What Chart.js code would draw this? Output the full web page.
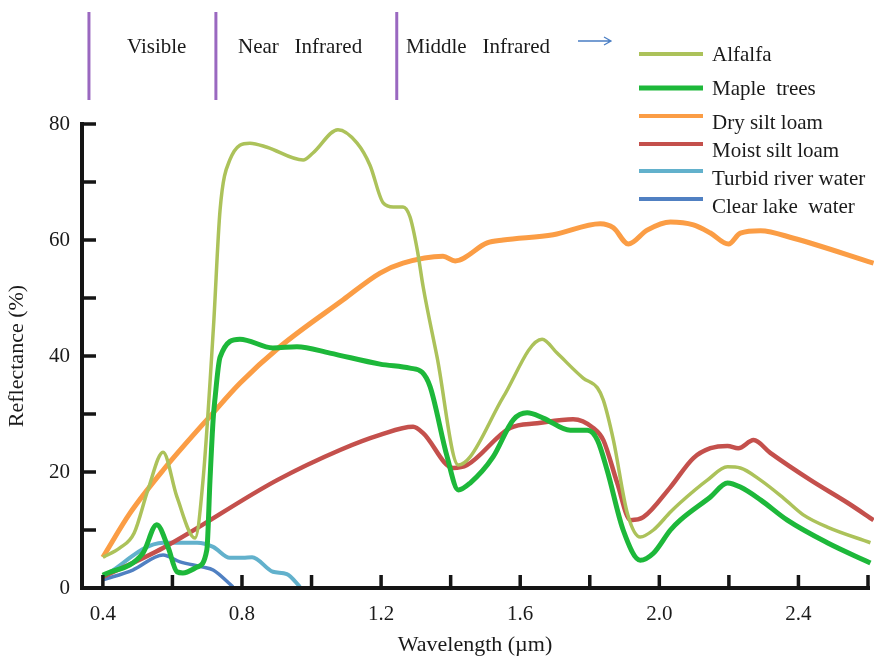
<!DOCTYPE html>
<html>
<head>
<meta charset="utf-8">
<script src="https://cdn.jsdelivr.net/npm/chart.js@4"></script>
<style>
  html, body { margin: 0; padding: 0; background: #fff; }
  #wrap { width: 874px; height: 656px; }
</style>
</head>
<body>
<div id="wrap"><canvas id="myChart" width="874" height="656"></canvas></div>
<script>
// wavelength (um) / reflectance (%)
const alfalfaWl = [0.40, 0.449, 0.49, 0.53, 0.573, 0.613, 0.665, 0.688, 0.718, 0.737, 0.765, 0.823, 0.872, 0.976, 1.004, 1.076, 1.131, 1.168, 1.206, 1.235, 1.263, 1.283, 1.304, 1.321, 1.361, 1.422, 1.456, 1.551, 1.663, 1.706, 1.781, 1.822, 1.839, 1.868, 1.908, 1.945, 1.983, 2.032, 2.060, 2.138, 2.196, 2.233, 2.291, 2.357, 2.414, 2.483, 2.607];
const alfalfaR  = [5.3, 6.9, 9.5, 17.0, 23.4, 15.7, 8.6, 18.6, 45.0, 65.2, 73.8, 76.7, 76.0, 73.8, 75.0, 79.0, 76.7, 72.9, 66.4, 65.7, 65.7, 64.0, 58.3, 51.9, 39.8, 21.2, 22.6, 32.9, 42.9, 40.5, 36.2, 34.5, 32.4, 25.5, 12.9, 8.8, 10.0, 13.1, 14.7, 18.6, 20.9, 20.7, 18.6, 15.5, 12.6, 10.5, 7.8];

const mapleWl = [0.40, 0.515, 0.555, 0.587, 0.613, 0.630, 0.671, 0.699, 0.708, 0.717, 0.722, 0.737, 0.794, 0.889, 0.958, 1.053, 1.197, 1.283, 1.318, 1.341, 1.390, 1.422, 1.456, 1.522, 1.580, 1.620, 1.666, 1.744, 1.793, 1.822, 1.850, 1.896, 1.945, 1.983, 2.032, 2.060, 2.147, 2.196, 2.233, 2.291, 2.368, 2.483, 2.607];
const mapleR  = [2.2, 6.0, 10.9, 7.1, 2.8, 2.6, 3.6, 6.6, 18.6, 29.0, 32.4, 39.8, 42.9, 41.4, 41.6, 40.5, 38.6, 37.9, 37.2, 34.7, 22.6, 16.9, 18.1, 22.6, 29.0, 30.2, 29.3, 27.2, 27.2, 25.5, 20.3, 10.0, 4.8, 6.0, 10.0, 11.7, 15.7, 18.1, 17.4, 15.2, 11.7, 7.8, 4.3];

const drySiltWl = [0.40, 0.478, 0.573, 0.717, 0.794, 0.909, 1.091, 1.197, 1.263, 1.378, 1.413, 1.505, 1.551, 1.695, 1.830, 1.868, 1.911, 1.965, 2.032, 2.098, 2.147, 2.199, 2.233, 2.291, 2.386, 2.616];
const drySiltR  = [5.3, 12.9, 20.3, 30.2, 35.3, 41.6, 49.7, 54.3, 56.0, 57.2, 56.4, 59.5, 60.0, 60.9, 62.8, 62.1, 59.3, 61.7, 63.1, 62.6, 61.2, 59.3, 61.2, 61.6, 60.3, 56.0];

const moistSiltWl = [0.40, 0.573, 0.901, 1.082, 1.197, 1.292, 1.321, 1.407, 1.447, 1.571, 1.649, 1.752, 1.810, 1.839, 1.879, 1.917, 1.954, 2.032, 2.098, 2.147, 2.196, 2.227, 2.271, 2.319, 2.435, 2.541, 2.616];
const moistSiltR  = [1.9, 6.9, 18.6, 23.8, 26.4, 27.8, 26.7, 20.7, 21.2, 27.6, 28.4, 29.1, 27.6, 25.5, 18.1, 11.7, 12.2, 17.4, 22.4, 24.1, 24.5, 24.1, 25.5, 23.3, 18.6, 14.7, 11.7];

const turbidWl = [0.40, 0.573, 0.671, 0.717, 0.765, 0.803, 0.829, 0.889, 0.929, 0.967];
const turbidR  = [1.9, 7.8, 7.8, 7.1, 5.2, 5.2, 5.3, 2.8, 2.4, 0.2];

const clearWl = [0.40, 0.486, 0.573, 0.622, 0.688, 0.717, 0.774];
const clearR  = [1.4, 3.1, 5.7, 4.5, 3.6, 3.1, 0.2];

const seriesNames = ['Alfalfa', 'Maple  trees', 'Dry silt loam', 'Moist silt loam', 'Turbid river water', 'Clear lake  water'];
const seriesColors = ['#acc25a', '#1db83a', '#fb9d45', '#c4504c', '#62b1cc', '#5080c2'];
const seriesWidths = [3.5, 5, 5, 4.5, 4, 3.5];

const xTickVals = [0.4, 0.6, 0.8, 1.0, 1.2, 1.4, 1.6, 1.8, 2.0, 2.2, 2.4, 2.6];
const xLabelVals = [0.4, 0.8, 1.2, 1.6, 2.0, 2.4];
const yTickVals = [0, 10, 20, 30, 40, 50, 60, 70, 80];
const yLabelVals = [0, 20, 40, 60, 80];

// spectral regions: boundary wavelengths and labels
const regionBounds = [0.36, 0.725, 1.245];
const regionLabels = ['Visible', 'Near   Infrared', 'Middle   Infrared'];

const FONT = "'Liberation Serif', 'DejaVu Serif', serif";

function pts(xs, ys) {
  return xs.map((v, i) => ({ x: v, y: ys[i] }));
}

const allWl = [alfalfaWl, mapleWl, drySiltWl, moistSiltWl, turbidWl, clearWl];
const allR = [alfalfaR, mapleR, drySiltR, moistSiltR, turbidR, clearR];

const datasets = seriesNames.map((name, i) => ({
  label: name,
  data: pts(allWl[i], allR[i]),
  borderColor: seriesColors[i],
  borderWidth: seriesWidths[i],
  pointRadius: 0,
  fill: false,
  cubicInterpolationMode: 'monotone',
  clip: false
}));

// axes, inward ticks, legend and region markers
const decor = {
  id: 'decor',
  afterDraw(chart) {
    const { ctx, chartArea: a, scales: { x, y } } = chart;
    ctx.save();
    ctx.strokeStyle = '#151515';
    ctx.lineWidth = 4;
    ctx.beginPath();
    ctx.moveTo(a.left, y.getPixelForValue(80) - 2);
    ctx.lineTo(a.left, a.bottom);
    ctx.lineTo(x.getPixelForValue(2.6) + 2, a.bottom);
    ctx.stroke();

    ctx.lineWidth = 3.5;
    ctx.beginPath();
    yTickVals.forEach(v => {
      const py = y.getPixelForValue(v);
      if (v === 0) return;
      ctx.moveTo(a.left, py);
      ctx.lineTo(a.left + 14, py);
    });
    xTickVals.forEach(v => {
      const px = x.getPixelForValue(v);
      ctx.moveTo(px, a.bottom);
      ctx.lineTo(px, a.bottom - 13);
    });
    ctx.stroke();

    // legend
    ctx.font = '21px ' + FONT;
    ctx.fillStyle = '#1a1a1a';
    ctx.textBaseline = 'middle';
    ctx.textAlign = 'left';
    const legLineY = [54, 88, 116, 144, 171, 199];
    const legTextY = [55, 89, 123, 151, 179, 207];
    seriesNames.forEach((name, i) => {
      ctx.strokeStyle = seriesColors[i];
      ctx.lineWidth = i === 1 ? 5 : 4;
      ctx.beginPath();
      ctx.moveTo(639, legLineY[i]);
      ctx.lineTo(703, legLineY[i]);
      ctx.stroke();
      ctx.fillText(name, 712, legTextY[i]);
    });

    // spectral regions
    ctx.strokeStyle = '#9a68c0';
    ctx.lineWidth = 3;
    regionBounds.forEach(v => {
      const px = x.getPixelForValue(v);
      ctx.beginPath();
      ctx.moveTo(px, 12);
      ctx.lineTo(px, 100);
      ctx.stroke();
    });
    const labelX = [127, 238, 406];
    regionLabels.forEach((t, i) => ctx.fillText(t, labelX[i], 47));

    // arrow
    ctx.strokeStyle = '#4a7ec4';
    ctx.lineWidth = 1.3;
    ctx.beginPath();
    ctx.moveTo(578, 41);
    ctx.lineTo(611, 41);
    ctx.moveTo(604, 37);
    ctx.lineTo(611, 41);
    ctx.lineTo(604, 45);
    ctx.stroke();
    ctx.restore();
  }
};

new Chart(document.getElementById('myChart'), {
  type: 'line',
  data: { datasets: datasets },
  plugins: [decor],
  options: {
    responsive: false,
    animation: false,
    layout: { padding: { top: 124, right: 6, left: 0, bottom: 0 } },
    plugins: { legend: { display: false }, tooltip: { enabled: false } },
    scales: {
      x: {
        type: 'linear',
        min: 0.34,
        max: 2.6,
        grid: { display: false },
        border: { display: false },
        afterBuildTicks: s => { s.ticks = xTickVals.map(v => ({ value: v })); },
        afterFit: s => { s.height = 68; },
        ticks: {
          autoSkip: false,
          maxRotation: 0,
          padding: 6,
          color: '#1a1a1a',
          font: { family: FONT, size: 21 },
          callback: v => xLabelVals.some(l => Math.abs(l - v) < 1e-6) ? v.toFixed(1) : ''
        },
        title: {
          display: true,
          text: 'Wavelength (µm)',
          color: '#1a1a1a',
          font: { family: FONT, size: 22 },
          padding: { top: 0, bottom: -2 }
        }
      },
      y: {
        min: 0,
        max: 80,
        grid: { display: false },
        border: { display: false },
        afterBuildTicks: s => { s.ticks = yTickVals.map(v => ({ value: v })); },
        afterFit: s => { s.width = 82; },
        ticks: {
          autoSkip: false,
          padding: 4,
          color: '#1a1a1a',
          font: { family: FONT, size: 21 },
          callback: v => yLabelVals.includes(v) ? String(v) : ''
        },
        title: {
          display: true,
          text: 'Reflectance (%)',
          color: '#1a1a1a',
          font: { family: FONT, size: 22 },
          padding: { top: 4, bottom: 0 }
        }
      }
    }
  }
});
</script>
</body>
</html>
